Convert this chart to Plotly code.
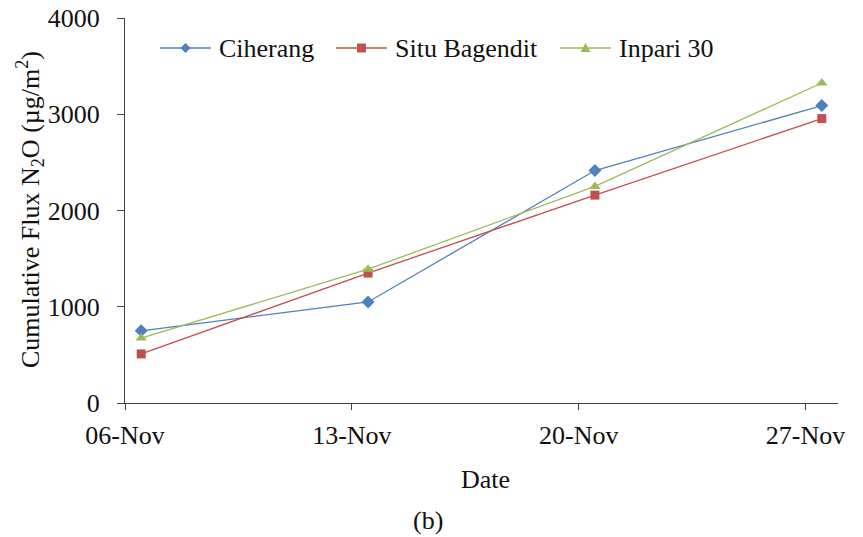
import pandas as pd
import plotly.graph_objects as go

# Sampling dates and cumulative N2O flux (µg/m²) per rice variety
dates = ["2013-11-06", "2013-11-13", "2013-11-20", "2013-11-27"]
ciherang = [750, 1050, 2415, 3090]
situ_bagendit = [510, 1350, 2160, 2955]
inpari_30 = [675, 1390, 2250, 3325]

tick_dates = ["2013-11-06", "2013-11-13", "2013-11-20", "2013-11-27"]

# points sit in the middle of each day slot (date axis, between tick marks)
x = pd.to_datetime(dates) + pd.Timedelta(hours=12)

FONT = "Liberation Serif"
TXT = "#111111"
AXIS = "#404040"
SIZE = 26

W, H = 863, 537
ML, MR, MT, MB = 125, 25, 18, 134
PW, PH = W - ML - MR, H - MT - MB


def px_x(v):
    return (v - ML) / PW


def px_y(v):
    return (H - MB - v) / PH


# legend glyph outlines (pixels around the anchor, y up)
GLYPHS = {
    "diamond": "M 0,5 L 5,0 L 0,-5 L -5,0 Z",
    "square": "M -4.5,-4.5 L 4.5,-4.5 L 4.5,4.5 L -4.5,4.5 Z",
    "triangle-up": "M -5,-4 L 5,-4 L 0,5 Z",
}

# name, values, colour, marker symbol, marker size, legend line start (px)
series = [
    ("Ciherang", ciherang, "#4F81BD", "diamond", 10, 160),
    ("Situ Bagendit", situ_bagendit, "#C0504D", "square", 9, 336),
    ("Inpari 30", inpari_30, "#9BBB59", "triangle-up", 10, 560),
]

LEG_Y = 48
LEG_LINE = 51

fig = go.Figure()
shapes, annotations = [], []
for name, vals, color, symbol, size, lx in series:
    fig.add_trace(go.Scatter(
        x=x, y=vals, name=name, mode="lines+markers", showlegend=False,
        line=dict(color=color, width=1.3),
        marker=dict(symbol=symbol, size=size, color=color),
    ))
    # legend entry: line, glyph, label
    shapes.append(dict(
        type="line", xref="paper", yref="paper",
        x0=px_x(lx), x1=px_x(lx + LEG_LINE), y0=px_y(LEG_Y), y1=px_y(LEG_Y),
        line=dict(color=color, width=1.3),
    ))
    shapes.append(dict(
        type="path", xref="paper", yref="paper",
        xsizemode="pixel", ysizemode="pixel",
        xanchor=px_x(lx + LEG_LINE / 2), yanchor=px_y(LEG_Y),
        path=GLYPHS[symbol], fillcolor=color, line=dict(width=0),
    ))
    annotations.append(dict(
        text=name, xref="paper", yref="paper",
        x=px_x(lx + LEG_LINE + 6), y=px_y(LEG_Y),
        xanchor="left", yanchor="middle", showarrow=False,
        font=dict(family=FONT, size=SIZE, color=TXT),
    ))

annotations += [
    dict(text="Cumulative Flux N<sub>2</sub>O (µg/m<sup>2</sup>)",
         xref="paper", yref="paper", x=px_x(30), y=px_y(210),
         xanchor="center", yanchor="middle", textangle=-90,
         showarrow=False, font=dict(family=FONT, size=SIZE, color=TXT)),
    dict(text="Date", xref="paper", yref="paper", x=px_x(485), y=px_y(479),
         xanchor="center", yanchor="middle", showarrow=False,
         font=dict(family=FONT, size=SIZE, color=TXT)),
    dict(text="(b)", xref="paper", yref="paper", x=px_x(428), y=px_y(520),
         xanchor="center", yanchor="middle", showarrow=False,
         font=dict(family=FONT, size=SIZE, color=TXT)),
]

fig.update_layout(
    width=W, height=H,
    margin=dict(l=ML, r=MR, t=MT, b=MB),
    paper_bgcolor="white", plot_bgcolor="white",
    font=dict(family=FONT, size=SIZE, color=TXT),
    showlegend=False,
    xaxis=dict(
        type="date",
        range=["2013-11-06", "2013-11-28"],
        tickvals=pd.to_datetime(tick_dates),
        tickformat="%d-%b",
        showgrid=False, zeroline=False, automargin=False,
        showline=True, linecolor=AXIS, linewidth=1.3,
        ticks="outside", ticklen=6, tickcolor=AXIS, tickwidth=1.3,
        ticklabelstandoff=3,
        tickfont=dict(family=FONT, size=SIZE, color=TXT),
    ),
    yaxis=dict(
        range=[0, 4000], tickvals=[0, 1000, 2000, 3000, 4000],
        showgrid=False, zeroline=False, automargin=False,
        showline=True, linecolor=AXIS, linewidth=1.3,
        ticks="outside", ticklen=7, tickcolor=AXIS, tickwidth=1.3,
        ticklabelstandoff=12,
        tickfont=dict(family=FONT, size=SIZE, color=TXT),
    ),
    shapes=shapes,
    annotations=annotations,
)

fig.write_html("out.html")
